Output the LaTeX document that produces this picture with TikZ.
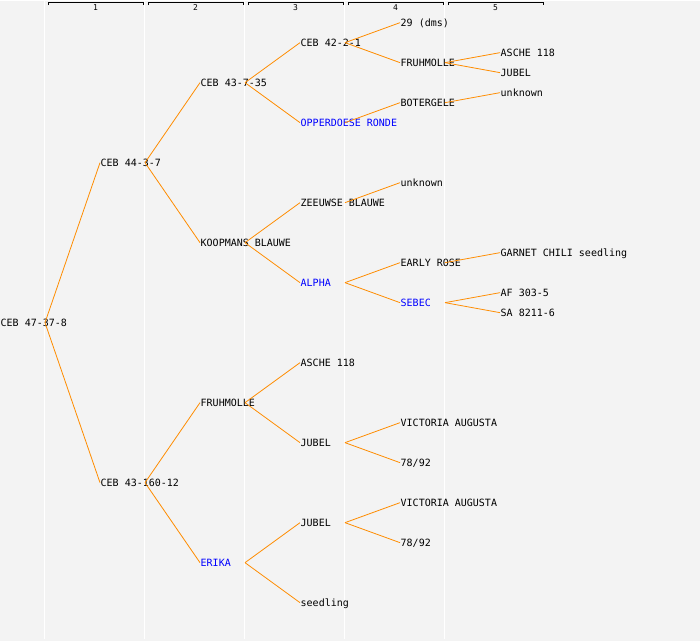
\documentclass[tikz,border=0pt]{standalone}
\usepackage{fontspec}
\setmonofont{DejaVu Sans Mono}
\usepackage{xcolor}
\usepackage{tikz}
\definecolor{bggray}{RGB}{243,243,243}
\definecolor{linkorange}{RGB}{255,140,0}

\begin{document}
\begin{tikzpicture}[x=1pt, y=-1pt,
        plant/.style={anchor=west, inner xsep=0.5pt, inner ysep=0pt,
        text height=7pt, text depth=0pt, font=\ttfamily\fontsize{10}{10}\selectfont},
        newplant/.style={plant, text=blue},
        link/.style={draw=linkorange, line width=0.8pt},
        gen/.style={font=\ttfamily\fontsize{8}{8}\selectfont, inner sep=0pt}]
        % background and generation columns
        \fill[bggray] (0,0) rectangle (700,640);
        \foreach \x in {44.5,144.5,244.5,344.5,444.5}
            \draw[white, line width=1.3pt] (\x,0) -- (\x,638);
        \foreach \k in {1,...,5} {
            \draw[black, line width=0.9pt] (48+100*\k-100,4.5) -- (48+100*\k-100,1.5)
                -- (143+100*\k-100,1.5) -- (143+100*\k-100,4.5);
            \node[gen] (gen\k) at (95.5+100*\k-100,7) {\k};
        }

        % generation 0
        \node[plant] (A) at (0,322) {CEB 47-37-8};
        % generation 1
        \node[plant] (B) at (100,162) {CEB 44-3-7};
        \node[plant] (C) at (100,482) {CEB 43-160-12};
        % generation 2
        \node[plant] (D) at (200,82) {CEB 43-7-35};
        \node[plant] (E) at (200,242) {KOOPMANS BLAUWE};
        \node[plant] (F) at (200,402) {FRUHMOLLE};
        \node[newplant] (G) at (200,562) {ERIKA};
        % generation 3
        \node[plant] (H) at (300,42) {CEB 42-2-1};
        \node[newplant] (I) at (300,122) {OPPERDOESE RONDE};
        \node[plant] (J) at (300,202) {ZEEUWSE BLAUWE};
        \node[newplant] (K) at (300,282) {ALPHA};
        \node[plant] (L) at (300,362) {ASCHE 118};
        \node[plant] (M) at (300,442) {JUBEL};
        \node[plant] (N) at (300,522) {JUBEL};
        \node[plant] (O) at (300,602) {seedling};
        % generation 4
        \node[plant] (P) at (400,22) {29 (dms)};
        \node[plant] (Q) at (400,62) {FRUHMOLLE};
        \node[plant] (R) at (400,102) {BOTERGELE};
        \node[plant] (S) at (400,182) {unknown};
        \node[plant] (T) at (400,262) {EARLY ROSE};
        \node[newplant] (U) at (400,302) {SEBEC};
        \node[plant] (V) at (400,422) {VICTORIA AUGUSTA};
        \node[plant] (W) at (400,462) {78/92};
        \node[plant] (X) at (400,502) {VICTORIA AUGUSTA};
        \node[plant] (Y) at (400,542) {78/92};
        % generation 5
        \node[plant] (Q1) at (500,52) {ASCHE 118};
        \node[plant] (Q2) at (500,72) {JUBEL};
        \node[plant] (R1) at (500,92) {unknown};
        \node[plant] (T1) at (500,252) {GARNET CHILI seedling};
        \node[plant] (U1) at (500,292) {AF 303-5};
        \node[plant] (U2) at (500,312) {SA 8211-6};

        % branching points on the column lines
        \coordinate (Aj) at (45,322);
        \coordinate (Bj) at (145,162);
        \coordinate (Cj) at (145,482);
        \coordinate (Dj) at (245,82);
        \coordinate (Ej) at (245,242);
        \coordinate (Fj) at (245,402);
        \coordinate (Gj) at (245,562);
        \coordinate (Hj) at (345,42);
        \coordinate (Ij) at (345,122);
        \coordinate (Jj) at (345,202);
        \coordinate (Kj) at (345,282);
        \coordinate (Mj) at (345,442);
        \coordinate (Nj) at (345,522);
        \coordinate (Qj) at (445,62);
        \coordinate (Rj) at (445,102);
        \coordinate (Tj) at (445,262);
        \coordinate (Uj) at (445,302);

        \draw[link] (Aj) -- (B.west);
        \draw[link] (Aj) -- (C.west);
        \draw[link] (Bj) -- (D.west);
        \draw[link] (Bj) -- (E.west);
        \draw[link] (Cj) -- (F.west);
        \draw[link] (Cj) -- (G.west);
        \draw[link] (Dj) -- (H.west);
        \draw[link] (Dj) -- (I.west);
        \draw[link] (Ej) -- (J.west);
        \draw[link] (Ej) -- (K.west);
        \draw[link] (Fj) -- (L.west);
        \draw[link] (Fj) -- (M.west);
        \draw[link] (Gj) -- (N.west);
        \draw[link] (Gj) -- (O.west);
        \draw[link] (Hj) -- (P.west);
        \draw[link] (Hj) -- (Q.west);
        \draw[link] (Ij) -- (R.west);
        \draw[link] (Jj) -- (S.west);
        \draw[link] (Kj) -- (T.west);
        \draw[link] (Kj) -- (U.west);
        \draw[link] (Mj) -- (V.west);
        \draw[link] (Mj) -- (W.west);
        \draw[link] (Nj) -- (X.west);
        \draw[link] (Nj) -- (Y.west);
        \draw[link] (Qj) -- (Q1.west);
        \draw[link] (Qj) -- (Q2.west);
        \draw[link] (Rj) -- (R1.west);
        \draw[link] (Tj) -- (T1.west);
        \draw[link] (Uj) -- (U1.west);
        \draw[link] (Uj) -- (U2.west);
    \end{tikzpicture}
\end{document}
